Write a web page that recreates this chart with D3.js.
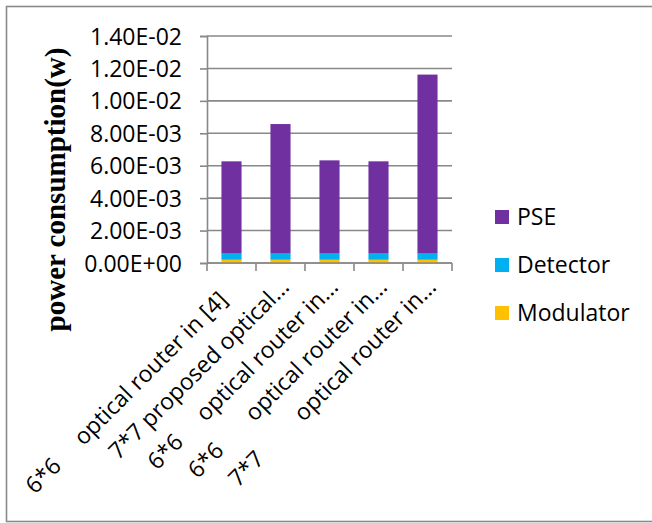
<!DOCTYPE html>
<html>
<head>
<meta charset="utf-8">
<script src="https://cdn.jsdelivr.net/npm/d3@7/dist/d3.min.js"></script>
<style>
  html, body { margin: 0; padding: 0; background: #fff; }
  svg { display: block; }
  .lbl { font-family: "Open Sans", sans-serif; fill: #000; white-space: pre; }
</style>
</head>
<body>
<svg id="chart" width="652" height="523"></svg>
<script>
// Router configurations on the category axis
const categories = [
  "6*6     optical router in [4]   ",
  "7*7 proposed optical...",
  "6*6     optical router in...",
  "6*6       optical router in...",
  "7*7         optical router in..."
];
// Power consumption per component (W)
const modulator = [0.00020, 0.00020, 0.00020, 0.00020, 0.00020];
const detector  = [0.00038, 0.00038, 0.00038, 0.00038, 0.00038];
const pse       = [0.00569, 0.00799, 0.00575, 0.00569, 0.01104];
const seriesNames = ["Modulator", "Detector", "PSE"];
const seriesColors = ["#FFC000", "#00B0F0", "#7030A0"];
const yTicks = [0, 0.002, 0.004, 0.006, 0.008, 0.010, 0.012, 0.014];
const yTickLabels = ["0.00E+00", "2.00E-03", "4.00E-03", "6.00E-03", "8.00E-03", "1.00E-02", "1.20E-02", "1.40E-02"];
const yTitle = "power consumption(w)";

const svg = d3.select("#chart");
const gridColor = "#888888";

// outer chart frame
svg.append("rect")
  .attr("x", 6.5).attr("y", 6.5)
  .attr("width", 700).attr("height", 515)
  .attr("fill", "#fff")
  .attr("stroke", "#8a8a8a").attr("stroke-width", 1.6);

const plot = { left: 207, right: 452, top: 36, bottom: 263 };

const x = d3.scaleBand()
  .domain(d3.range(categories.length))
  .range([plot.left, plot.right])
  .paddingInner(0.59)
  .paddingOuter(0.295);

const y = d3.scaleLinear()
  .domain([0, 0.014])
  .range([plot.bottom, plot.top]);

// horizontal gridlines
svg.append("g")
  .selectAll("line")
  .data(yTicks)
  .join("line")
  .attr("x1", plot.left).attr("x2", plot.right)
  .attr("y1", d => y(d)).attr("y2", d => y(d))
  .attr("stroke", gridColor).attr("stroke-width", 1.6);

// stacked bars
const rows = categories.map((c, i) => ({ i, Modulator: modulator[i], Detector: detector[i], PSE: pse[i] }));
const stacked = d3.stack().keys(seriesNames)(rows);

svg.append("g")
  .selectAll("g")
  .data(stacked)
  .join("g")
  .attr("fill", (d, k) => seriesColors[k])
  .selectAll("rect")
  .data(d => d)
  .join("rect")
  .attr("x", d => x(d.data.i))
  .attr("width", x.bandwidth())
  .attr("y", d => y(d[1]))
  .attr("height", d => y(d[0]) - y(d[1]));

// y axis
const yAxis = d3.axisLeft(y)
  .tickValues(yTicks)
  .tickFormat((d, i) => yTickLabels[i])
  .tickSize(7)
  .tickPadding(18);

const gy = svg.append("g")
  .attr("transform", `translate(${plot.left},0)`)
  .call(yAxis);
gy.select(".domain").attr("stroke", gridColor).attr("stroke-width", 1.6);
gy.selectAll(".tick line").attr("stroke", gridColor).attr("stroke-width", 1.6);
gy.selectAll(".tick text")
  .attr("class", "lbl")
  .style("font-size", "23px")
  .attr("dy", "0.35em");

// x axis line with boundary ticks
const boundaries = d3.range(categories.length + 1).map(i => plot.left + i * x.step());
svg.append("line")
  .attr("x1", plot.left).attr("x2", plot.right)
  .attr("y1", plot.bottom).attr("y2", plot.bottom)
  .attr("stroke", gridColor).attr("stroke-width", 1.6);
svg.append("g")
  .selectAll("line")
  .data(boundaries)
  .join("line")
  .attr("x1", d => d).attr("x2", d => d)
  .attr("y1", plot.bottom).attr("y2", plot.bottom + 8)
  .attr("stroke", gridColor).attr("stroke-width", 1.6);

// rotated category labels
svg.append("g")
  .selectAll("text")
  .data(categories)
  .join("text")
  .attr("class", "lbl")
  .style("font-size", "23px")
  .attr("text-anchor", "end")
  .attr("transform", (d, i) => {
    const cx = x(i) + x.bandwidth() / 2;
    return `translate(${cx + 10},${plot.bottom + 25.5}) rotate(-45)`;
  })
  .text(d => d);

// y axis title
svg.append("text")
  .attr("transform", `translate(65,${(47 + 332) / 2}) rotate(-90)`)
  .attr("text-anchor", "middle")
  .style("font-family", "'Liberation Serif', 'Times New Roman', serif")
  .style("font-weight", "bold")
  .style("font-size", "29px")
  .text(yTitle);

// legend, top entry is the top of the stack
const legendItems = seriesNames.map((n, k) => ({ n, c: seriesColors[k] })).reverse();
const lg = svg.append("g")
  .selectAll("g")
  .data(legendItems)
  .join("g")
  .attr("transform", (d, i) => `translate(495,${217 + i * 48})`);
lg.append("rect")
  .attr("x", 0).attr("y", -7)
  .attr("width", 14).attr("height", 14)
  .attr("fill", d => d.c);
lg.append("text")
  .attr("class", "lbl")
  .style("font-size", "23px")
  .attr("x", 22)
  .attr("dy", "0.36em")
  .text(d => d.n);
</script>
</body>
</html>
